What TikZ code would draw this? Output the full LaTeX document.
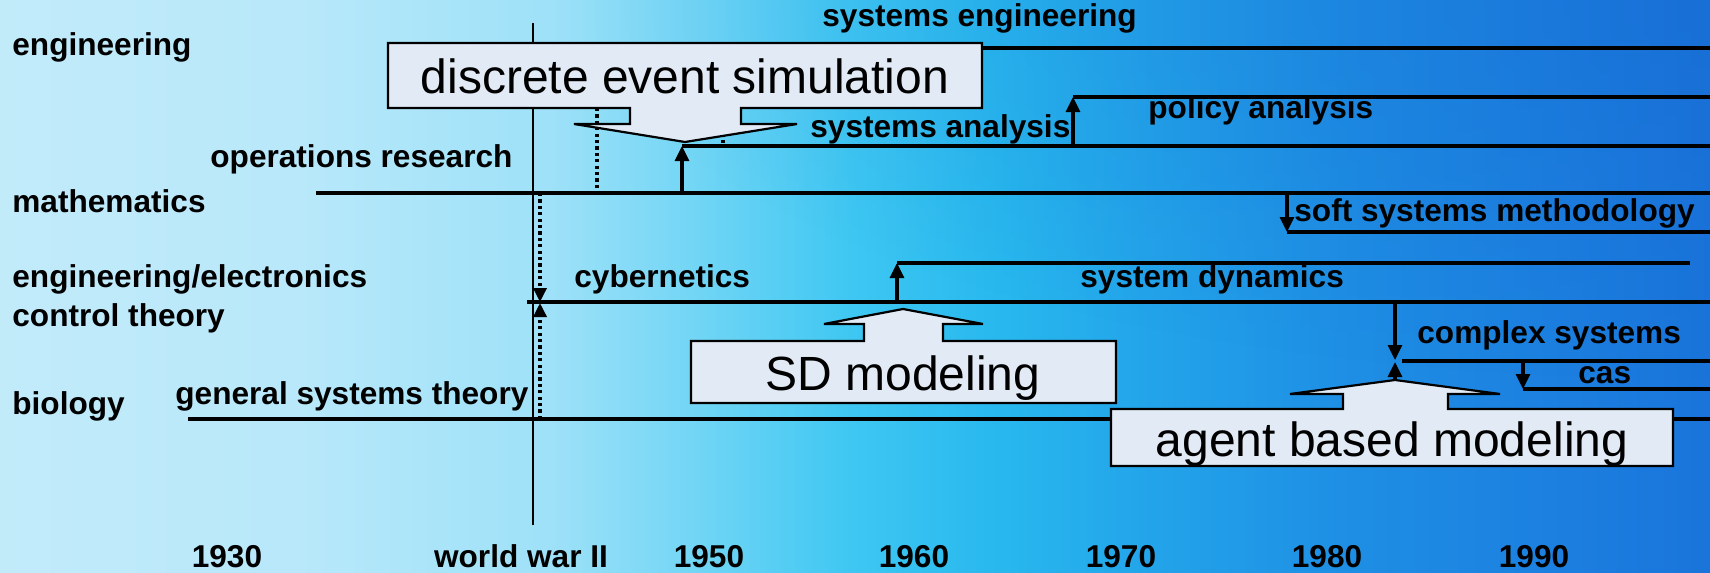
\documentclass[tikz,border=0pt]{standalone}
\usepackage{fontspec}
\setmainfont{Liberation Sans}
\usetikzlibrary{arrows.meta,fadings}

% sky background colours, left to right
\definecolor{bg0}{RGB}{194,235,250}
\definecolor{bg1}{RGB}{184,232,250}
\definecolor{bg2}{RGB}{158,225,248}
\definecolor{bg3}{RGB}{112,213,245}
\definecolor{bg4}{RGB}{62,199,242}
\definecolor{bg5}{RGB}{40,184,238}
\definecolor{bg6}{RGB}{35,164,234}
\definecolor{bg7}{RGB}{30,142,228}
\definecolor{bg8}{RGB}{28,128,224}
\definecolor{bg9}{RGB}{26,116,218}
\definecolor{topblue}{RGB}{22,100,205}
\definecolor{boxfill}{RGB}{225,234,245}

\pgfdeclarehorizontalshading{skyshade}{100bp}{%
  color(0bp)=(bg0); color(25bp)=(bg0); color(33.8bp)=(bg1); color(41.1bp)=(bg2);
  color(45.5bp)=(bg3); color(49.9bp)=(bg4); color(54.2bp)=(bg5); color(58.6bp)=(bg6);
  color(64.5bp)=(bg7); color(70.3bp)=(bg8); color(75bp)=(bg9); color(100bp)=(bg9)}

\tikzfading[name=glowfade, inner color=transparent!0, outer color=transparent!100]

\tikzset{
  tline/.style={line width=1.6pt},
  arr/.style={tline, -{Triangle[length=7.5pt,width=7pt]}},
  dotline/.style={line width=1.7pt, dash pattern=on 1.6pt off 1.6pt},
  dotarr/.style={dotline, -{Triangle[length=7pt,width=6.5pt]}},
  callout/.style={draw=black, line width=1.1pt, fill=boxfill, line join=miter},
  lbl/.style={font=\fontsize{15.8}{19}\selectfont\bfseries, inner sep=0pt, anchor=base west},
  yr/.style={font=\fontsize{15.8}{19}\selectfont\bfseries, inner sep=0pt, anchor=base},
  big/.style={font=\fontsize{24}{28}\selectfont, inner sep=0pt, anchor=base}
}

\begin{document}
\begin{tikzpicture}[x=0.5pt,y=-0.5pt]
\useasboundingbox (0,0) rectangle (1710,573);

% background
\begin{scope}
  \clip (0,0) rectangle (1710,573);
  \shade[shading=skyshade] (0,0) rectangle (1710,573);
  \fill[topblue, fill opacity=0.3, path fading=glowfade] (1710,0) ellipse [x radius=560pt, y radius=190pt];
\end{scope}

% world war II marker
\coordinate (ww-top) at (533,23);
\coordinate (ww-bot) at (533,525);
\draw[line width=0.6pt] (ww-top) -- (ww-bot);

% timeline end points
\coordinate (se-a) at (982,48);   \coordinate (se-b) at (1710,48);
\coordinate (pa-a) at (1073,97);  \coordinate (pa-b) at (1710,97);
\coordinate (sa-a) at (682,146);  \coordinate (sa-b) at (1710,146);
\coordinate (ma-a) at (316,193);  \coordinate (ma-b) at (1710,193);
\coordinate (ssm-a) at (1287,232); \coordinate (ssm-b) at (1710,232);
\coordinate (sd-a) at (897,263);  \coordinate (sd-b) at (1690,263);
\coordinate (ct-a) at (527,302);  \coordinate (ct-b) at (1710,302);
\coordinate (cx-a) at (1402,361); \coordinate (cx-b) at (1710,361);
\coordinate (cas-a) at (1523,389); \coordinate (cas-b) at (1710,389);
\coordinate (bio-a) at (188,419); \coordinate (bio-b) at (1710,419);

% branch origins
\coordinate (sa-root) at (682,193);
\coordinate (pa-root) at (1073,146);
\coordinate (ssm-root) at (1287,193);
\coordinate (sd-root) at (897,302);
\coordinate (cx-root) at (1395,302);
\coordinate (cx-tip) at (1395,360);
\coordinate (abm-tip) at (1395,380);
\coordinate (abm-end) at (1395,362);
\coordinate (cas-root) at (1523,361);

% dotted influence lines
\coordinate (d1-top) at (597,108); \coordinate (d1-bot) at (597,193);
\coordinate (d2-top) at (723,108); \coordinate (d2-bot) at (723,146);
\coordinate (c-math) at (540,193); \coordinate (c-ctl-a) at (540,302);
\coordinate (c-bio) at (540,419);  \coordinate (c-ctl-b) at (540,303);
\draw[dotline] (d1-top) -- (d1-bot);
\draw[dotline] (d2-top) -- (d2-bot);
\draw[dotarr] (c-math) -- (c-ctl-a);
\draw[dotarr] (c-bio) -- (c-ctl-b);

% timelines
\foreach \t in {se,pa,sa,ma,ssm,sd,ct,cx,cas,bio}
  \draw[tline] (\t-a) -- (\t-b);

% branching arrows
\draw[arr] (sa-root) -- (sa-a);
\draw[arr] (pa-root) -- (pa-a);
\draw[arr] (ssm-root) -- (ssm-a);
\draw[arr] (sd-root) -- (sd-a);
\draw[arr] (cx-root) -- (cx-tip);
\draw[arr] (abm-tip) -- (abm-end);
\draw[arr] (cas-root) -- (cas-a);

% callout boxes
\draw[callout] (388,43) -- (982,43) -- (982,108) -- (741,108) -- (741,124) -- (797,124)
  -- (685,142) -- (574,124) -- (630,124) -- (630,108) -- (388,108) -- cycle;
\draw[callout] (691,403) -- (1116,403) -- (1116,341) -- (943,341) -- (943,324) -- (983,324)
  -- (903,309) -- (824,324) -- (864,324) -- (864,341) -- (691,341) -- cycle;
\draw[callout] (1111,466) -- (1673,466) -- (1673,409) -- (1448,409) -- (1448,394) -- (1500,394)
  -- (1395,380) -- (1290,394) -- (1343,394) -- (1343,409) -- (1111,409) -- cycle;

\node[big] (des) at (685,93) {discrete event simulation};
\node[big] (sdm) at (903,390) {SD modeling};
\node[big] (abm) at (1392,456) {agent based modeling};

% discipline labels
\node[lbl] (l-eng) at (12,55) {engineering};
\node[lbl] (l-math) at (12,212) {mathematics};
\node[lbl] (l-ee) at (12,287) {engineering/electronics};
\node[lbl] (l-ct) at (12,326) {control theory};
\node[lbl] (l-bio) at (12,414) {biology};

% field labels
\node[lbl] (t-se) at (822,26) {systems engineering};
\node[lbl] (t-sa) at (810,137) {systems analysis};
\node[lbl] (t-pa) at (1148,118) {policy analysis};
\node[lbl] (t-or) at (210,167) {operations research};
\node[lbl] (t-ssm) at (1294,221) {soft systems methodology};
\node[lbl] (t-cyb) at (574,287) {cybernetics};
\node[lbl] (t-sd) at (1080,287) {system dynamics};
\node[lbl] (t-cx) at (1417,343) {complex systems};
\node[lbl] (t-cas) at (1578,383) {cas};
\node[lbl] (t-gst) at (175,404) {general systems theory};

% time axis
\node[yr] (y30) at (227,567) {1930};
\node[yr] (yww) at (521,567) {world war II};
\node[yr] (y50) at (709,567) {1950};
\node[yr] (y60) at (914,567) {1960};
\node[yr] (y70) at (1121,567) {1970};
\node[yr] (y80) at (1327,567) {1980};
\node[yr] (y90) at (1534,567) {1990};
\end{tikzpicture}
\end{document}
